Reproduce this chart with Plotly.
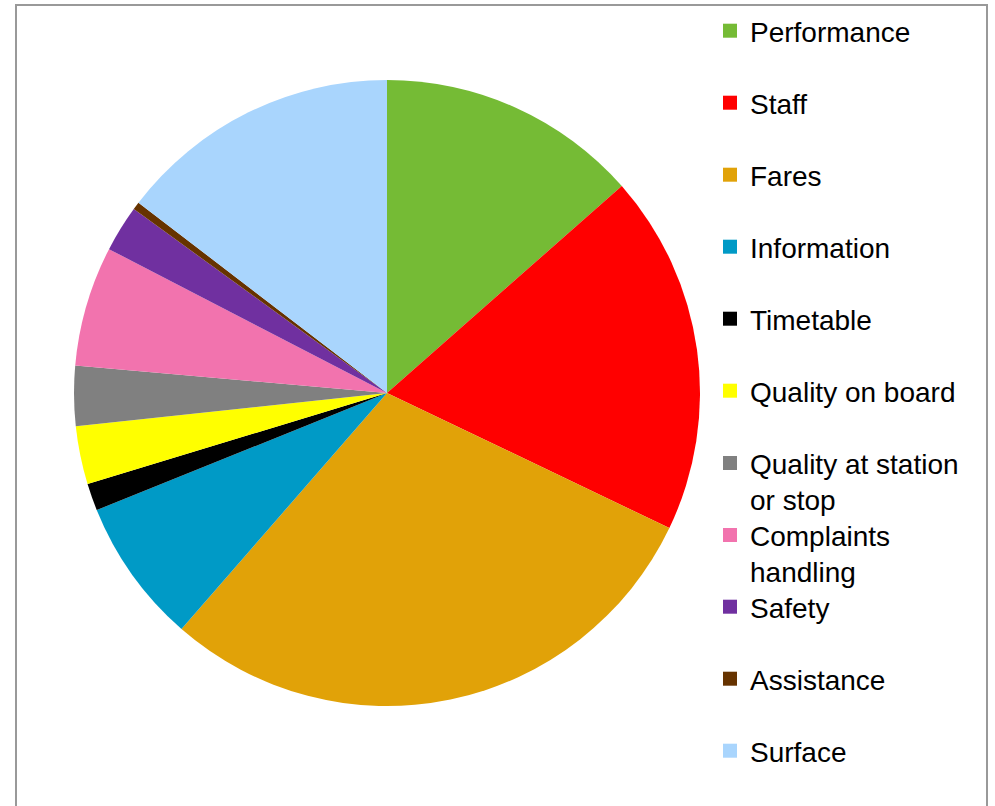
import plotly.graph_objects as go

# ---- data ----
labels = ["Performance", "Staff", "Fares", "Information", "Timetable",
          "Quality on board", "Quality at station<br>or stop",
          "Complaints<br>handling", "Safety", "Assistance", "Surface"]
values = [13.5, 18.6, 29.3, 7.5, 1.4, 3.0, 3.1, 6.2, 2.4, 0.4, 14.6]
colors = ["#75BB35", "#FF0000", "#E1A208", "#009AC6", "#000000",
          "#FFFF00", "#808080", "#F273AE", "#7030A0", "#663300", "#A9D5FD"]

W, H = 995, 806
FONT = dict(family="Liberation Sans, Arial, sans-serif", size=28, color="#000000")

fig = go.Figure()

# pie (circle, centre ~ (387, 393) px, radius ~313 px)
cx, cy, r = 387, 393, 313
fig.add_trace(go.Pie(
    labels=[l.replace("<br>", " ") for l in labels],
    values=values,
    marker=dict(colors=colors, line=dict(width=0)),
    sort=False,
    direction="clockwise",
    rotation=0,
    textinfo="none",
    hoverinfo="label+percent",
    showlegend=False,
    domain=dict(x=[(cx - r) / W, (cx + r) / W],
                y=[(H - (cy + r)) / H, (H - (cy - r)) / H]),
))

# legend entries: one legend per item so spacing can match the reference
first_y, step = 31, 72
lh = FONT["size"] * 1.3
layout_legends = {}
for i, (lab, col) in enumerate(zip(labels, colors)):
    key = "legend" if i == 0 else f"legend{i + 1}"
    fig.add_trace(go.Scatter(
        x=[None], y=[None], mode="markers",
        marker=dict(symbol="square", size=14, color=col),
        name=lab, legend=key, showlegend=True, hoverinfo="skip",
    ))
    nlines = lab.count("<br>") + 1
    yc = first_y + step * i + (nlines - 1) * lh / 2
    layout_legends[key] = dict(
        x=710 / W, xanchor="left",
        y=(H - yc) / H, yanchor="middle",
        valign="top", font=FONT, bgcolor="rgba(0,0,0,0)",
        borderwidth=0, itemsizing="trace",
    )

fig.update_layout(
    width=W, height=H,
    margin=dict(l=0, r=0, t=0, b=0),
    paper_bgcolor="white", plot_bgcolor="white",
    xaxis=dict(visible=False), yaxis=dict(visible=False),
    **layout_legends,
    shapes=[dict(type="rect", xref="paper", yref="paper",
                 x0=16 / W, x1=987 / W, y0=-0.05, y1=(H - 5) / H,
                 line=dict(color="#999999", width=2), fillcolor="rgba(0,0,0,0)")],
)

fig.write_html("out.html")
